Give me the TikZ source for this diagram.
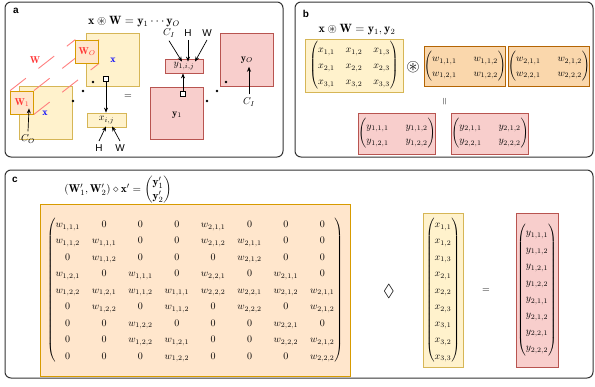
\documentclass[tikz,border=0pt]{standalone}
\usepackage{amsmath,amssymb}
\usepackage{fontspec}
\setsansfont{Liberation Sans}
\usetikzlibrary{arrows.meta,calc}
\definecolor{yelF}{HTML}{FFF2CC}\definecolor{yelD}{HTML}{D6B656}
\definecolor{orF}{HTML}{FFE6CC}\definecolor{orD}{HTML}{D79B00}
\definecolor{ortF}{HTML}{FAD7AC}\definecolor{ortD}{HTML}{B46504}
\definecolor{pkF}{HTML}{F8CECC}\definecolor{pkD}{HTML}{B85450}
\definecolor{redT}{HTML}{FF3333}\definecolor{bluT}{HTML}{0000FF}
\definecolor{dashR}{HTML}{FF7F7F}
\newcommand\mstretch[2]{\renewcommand\arraystretch{#1}\setlength\arraycolsep{#2}}
\pgfdeclarelayer{back}\pgfdeclarelayer{mid}
\pgfsetlayers{back,mid,main}
\begin{document}
\begin{tikzpicture}[x=1pt,y=-1pt,
  panel/.style={draw=black!80,line width=1pt,rounded corners=6pt},
  ybox/.style={draw=yelD,fill=yelF,line width=0.8pt,inner sep=0pt},
  obox/.style={draw=orD,fill=orF,line width=0.8pt,inner sep=0pt},
  otbox/.style={draw=ortD,fill=ortF,line width=0.8pt,inner sep=0pt},
  pbox/.style={draw=pkD,fill=pkF,line width=0.8pt,inner sep=0pt},
  arr/.style={-{Stealth[length=5pt,width=4pt]},line width=0.7pt},
  lab/.style={font=\sffamily\bfseries},
  sf/.style={font=\sffamily},
  title/.style={font=\fontsize{12}{14}\selectfont},
  marker/.style={draw,line width=1.2pt,fill=white,minimum size=4.5pt,inner sep=0pt},
  dotn/.style={circle,fill,inner sep=0pt,minimum size=2.6pt},
  pinkdash/.style={draw=dashR,line width=0.9pt,dash pattern=on 20pt off 16pt}]
\useasboundingbox (0,0) rectangle (595,386);
% frames
\draw[panel] (5,2) rectangle (283,157);
\draw[panel] (295,2) rectangle (593,157);
\draw[panel] (5,170) rectangle (593,378);
% ---------- panel a
\node[lab] (la) at (16,11) {a};
\node[title] (ta) at (134,21.5) {$\mathbf{x}\circledast\mathbf{W}=\mathbf{y}_1\cdots\mathbf{y}_O$};
\begin{pgfonlayer}{back}
\node[ybox,minimum width=53pt,minimum height=53pt] (bx) at (112.5,59.5) {};
\node[ybox,minimum width=53pt,minimum height=53pt] (fx) at (46,112.5) {};
\end{pgfonlayer}
\node[obox,minimum width=23pt,minimum height=23pt,text=redT] (W1) at (22,102.5) {$\mathbf{W}_1$};
\node[obox,minimum width=23pt,minimum height=23pt,text=redT] (WO) at (87.2,51.5) {$\mathbf{W}_O$};
\begin{pgfonlayer}{mid}
\draw[pinkdash] (W1.north west) -- (WO.north west);
\draw[pinkdash] (W1.north east) -- (WO.north east);
\draw[pinkdash] (W1.south east) -- (WO.south east);
\end{pgfonlayer}
\node[text=redT] (Wl) at (35,60) {$\mathbf{W}$};
\node[text=bluT] (xl1) at (113,60) {$\mathbf{x}$};
\node[text=bluT] (xl2) at (45,113) {$\mathbf{x}$};
\node[dotn] (d1) at (73,101) {};
\node[dotn] (d2) at (83,91) {};
\node[dotn] (d3) at (93,82) {};
\node[marker] (sq1) at (106,79) {};
\node[ybox,minimum width=39pt,minimum height=14pt] (xij) at (106.5,120) {$x_{i,j}$};
\draw[arr] (sq1) -- (sq1 |- xij.north);
\node[sf] (Ha) at (99,148) {H};
\node[sf] (Wa) at (120,148) {W};
\draw[arr] (Ha.north) -- ($(xij.south)+(-0.5,-1)$);
\draw[arr] (Wa.north) -- ($(xij.south)+(5.5,-1)$);
\node (eqa) at (128,97) {$=$};
\node (CO) at (28,139) {$C_O$};
\draw[arr] (CO.north) -- ($(W1.south)+(7,-6)$);
% y side
\node[pbox,minimum width=53pt,minimum height=52pt] (y1) at (176.5,113) {};
\node (y1l) at (177,115) {$\mathbf{y}_1$};
\node[pbox,minimum width=38pt,minimum height=14pt] (yij) at (184,66) {$y_{1,i,j}$};
\node (CIa) at (169,33) {$C_I$};
\node[sf] (Hb) at (188,33) {H};
\node[sf] (Wb) at (207,33) {W};
\draw[arr] (CIa.south) -- ($(yij.north)+(-2,3)$);
\draw[arr] (Hb.south) -- ($(yij.north)+(4,3)$);
\draw[arr] (Wb.south) -- ($(yij.north)+(11,3)$);
\node[marker] (sq2) at (183,94) {};
\draw[arr] (sq2) -- (sq2 |- yij.south);
\node[pbox,minimum width=53pt,minimum height=53pt] (yO) at (246.5,59.5) {};
\node (yOl) at (247,60) {$\mathbf{y}_O$};
\node (CIb) at (249,102) {$C_I$};
\draw[arr] (CIb.north) -- (CIb.north |- yOl.south);
\node[dotn] (e1) at (207,101) {};
\node[dotn] (e2) at (217,91) {};
\node[dotn] (e3) at (226,82) {};
% ---------- panel b
\node[lab] (lb) at (306,14) {b};
\node[title] (tb) at (357,29.5) {$\mathbf{x}\circledast\mathbf{W}=\mathbf{y}_1,\mathbf{y}_2$};
\node[ybox,minimum width=98pt,minimum height=53pt] (xb) at (354,65.5)
  {$\mstretch{1.35}{5.5pt}\begin{pmatrix}x_{1,1}&x_{1,2}&x_{1,3}\\x_{2,1}&x_{2,2}&x_{2,3}\\x_{3,1}&x_{3,2}&x_{3,3}\end{pmatrix}$};
\node (oast) at (413,67) {\LARGE$\circledast$};
\node[otbox,minimum width=76pt,minimum height=40pt] (w1b) at (465,66)
  {$\mstretch{1.2}{8.5pt}\begin{pmatrix}w_{1,1,1}&w_{1,1,2}\\w_{1,2,1}&w_{1,2,2}\end{pmatrix}$};
\node[otbox,minimum width=76pt,minimum height=40pt] (w2b) at (549,66)
  {$\mstretch{1.2}{8.5pt}\begin{pmatrix}w_{2,1,1}&w_{2,1,2}\\w_{2,2,1}&w_{2,2,2}\end{pmatrix}$};
\node[rotate=90] (eqb) at (445,102) {$=$};
\node[pbox,minimum width=74pt,minimum height=41pt] (y1b) at (397,133.5)
  {$\mstretch{1.2}{8.5pt}\begin{pmatrix}y_{1,1,1}&y_{1,1,2}\\y_{1,2,1}&y_{1,2,2}\end{pmatrix}$};
\node[pbox,minimum width=74pt,minimum height=41pt] (y2b) at (490,133.5)
  {$\mstretch{1.2}{8.5pt}\begin{pmatrix}y_{2,1,1}&y_{2,1,2}\\y_{2,2,1}&y_{2,2,2}\end{pmatrix}$};
% ---------- panel c
\node[lab] (lc) at (15,180) {c};
\node[font=\fontsize{11.3}{13.5}\selectfont] (tc) at (118,190) {$(\mathbf{W}'_1,\mathbf{W}'_2)\diamond\mathbf{x}'=\begin{pmatrix}\mathbf{y}'_1\\\mathbf{y}'_2\end{pmatrix}$};
\node[obox,minimum width=310pt,minimum height=172pt] (Wc) at (195,290)
  {$\mstretch{1.37}{6pt}\begin{pmatrix}
  w_{1,1,1}&0&0&0&w_{2,1,1}&0&0&0\\
  w_{1,1,2}&w_{1,1,1}&0&0&w_{2,1,2}&w_{2,1,1}&0&0\\
  0&w_{1,1,2}&0&0&0&w_{2,1,2}&0&0\\
  w_{1,2,1}&0&w_{1,1,1}&0&w_{2,2,1}&0&w_{2,1,1}&0\\
  w_{1,2,2}&w_{1,2,1}&w_{1,1,2}&w_{1,1,1}&w_{2,2,2}&w_{2,2,1}&w_{2,1,2}&w_{2,1,1}\\
  0&w_{1,2,2}&0&w_{1,1,2}&0&w_{2,2,2}&0&w_{2,1,2}\\
  0&0&w_{1,2,2}&0&0&0&w_{2,2,1}&0\\
  0&0&w_{1,2,2}&w_{1,2,1}&0&0&w_{2,2,2}&w_{2,1,2}\\
  0&0&0&w_{1,2,2}&0&0&0&w_{2,2,2}
  \end{pmatrix}$};
\node (dia) at (389,291) {\LARGE$\Diamond$};
\node[ybox,minimum width=40pt,minimum height=154pt] (xc) at (443,290)
  {$\mstretch{1.37}{5pt}\begin{pmatrix}x_{1,1}\\x_{1,2}\\x_{1,3}\\x_{2,1}\\x_{2,2}\\x_{2,3}\\x_{3,1}\\x_{3,2}\\x_{3,3}\end{pmatrix}$};
\node (eqc) at (486,291) {$=$};
\node[pbox,minimum width=42pt,minimum height=154pt] (yc) at (537,290)
  {$\mstretch{1.37}{5pt}\begin{pmatrix}y_{1,1,1}\\y_{1,1,2}\\y_{1,2,1}\\y_{1,2,2}\\y_{2,1,1}\\y_{2,1,2}\\y_{2,2,1}\\y_{2,2,2}\end{pmatrix}$};
\end{tikzpicture}
\end{document}
